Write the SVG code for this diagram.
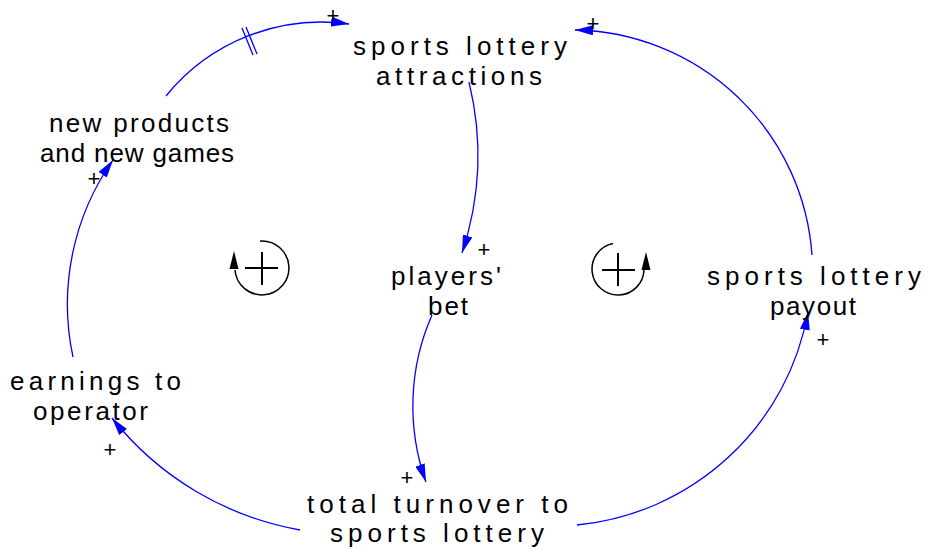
<svg xmlns="http://www.w3.org/2000/svg" width="925" height="553" viewBox="0 0 925 553">
<style>
.lbl{font-family:"Liberation Sans",Arial,sans-serif;font-size:26px;fill:#000}
.pol{font-family:"Liberation Sans",Arial,sans-serif;font-size:22px;fill:#000;text-anchor:middle}
.lnk{fill:none;stroke:#0000ff;stroke-width:1.3;marker-end:url(#ah)}
.loop{fill:none;stroke:#000;stroke-width:1.5}
</style>
<defs>
<marker id="ah" viewBox="0 0 18 10" refX="18" refY="5" markerWidth="18" markerHeight="10" markerUnits="userSpaceOnUse" orient="auto">
<path d="M0,0 L18,5 L0,10 z" fill="#0000ff"/>
</marker>
</defs>
<rect width="925" height="553" fill="#fff"/>
<g id="connectors">
<path class="lnk" d="M166,96 A200,200 0 0,1 349,24"/>
<line x1="242" y1="28" x2="253" y2="55" stroke="#0000ff" stroke-width="1.3"/>
<line x1="246" y1="27" x2="257" y2="54" stroke="#0000ff" stroke-width="1.3"/>
<path class="lnk" d="M469,82 A310,310 0 0,1 462,253"/>
<path class="lnk" d="M432,315 A226,226 0 0,0 426,482"/>
<path class="lnk" d="M300,530 A309,309 0 0,1 112,418"/>
<path class="lnk" d="M73,357 A251,251 0 0,1 113,160"/>
<path class="lnk" d="M577,525 A260,260 0 0,0 808,312"/>
<path class="lnk" d="M812,255 A242,242 0 0,0 575,30"/>
<text class="pol" x="333" y="23">+</text>
<text class="pol" x="593" y="31">+</text>
<text class="pol" x="94" y="186">+</text>
<text class="pol" x="484" y="257">+</text>
<text class="pol" x="407" y="485">+</text>
<text class="pol" x="110" y="457">+</text>
<text class="pol" x="823" y="347">+</text>
</g>
<g id="attractions">
<text class="lbl" x="353" y="55" textLength="214" lengthAdjust="spacing">sports lottery</text>
<text class="lbl" x="376" y="85" textLength="166" lengthAdjust="spacing">attractions</text>
</g>
<g id="new-products">
<text class="lbl" x="49" y="132" textLength="180" lengthAdjust="spacing">new products</text>
<text class="lbl" x="40" y="162" textLength="194" lengthAdjust="spacing">and new games</text>
</g>
<g id="players-bet">
<text class="lbl" x="391" y="285" textLength="110" lengthAdjust="spacing">players'</text>
<text class="lbl" x="428" y="315" textLength="40" lengthAdjust="spacing">bet</text>
</g>
<g id="payout">
<text class="lbl" x="707" y="285" textLength="214" lengthAdjust="spacing">sports lottery</text>
<text class="lbl" x="770" y="315" textLength="86" lengthAdjust="spacing">payout</text>
</g>
<g id="earnings">
<text class="lbl" x="10" y="390" textLength="171" lengthAdjust="spacing">earnings to</text>
<text class="lbl" x="33" y="420" textLength="115" lengthAdjust="spacing">operator</text>
</g>
<g id="turnover">
<text class="lbl" x="307" y="513" textLength="261" lengthAdjust="spacing">total turnover to</text>
<text class="lbl" x="330" y="542" textLength="214" lengthAdjust="spacing">sports lottery</text>
</g>
<g id="loop-left">
<path class="loop" d="M260,241 A27,27 0 1,1 235,270"/>
<path d="M234,251 L229.5,269 L238.5,269 z" fill="#000"/>
<line x1="245" y1="268" x2="278" y2="268" stroke="#000" stroke-width="2"/>
<line x1="262" y1="252" x2="262" y2="285" stroke="#000" stroke-width="2"/>
</g>
<g id="loop-right">
<path class="loop" d="M613,243.5 A26,26 0 1,0 644,270"/>
<path d="M646,252 L641.5,270 L650.5,270 z" fill="#000"/>
<line x1="602" y1="270" x2="635" y2="270" stroke="#000" stroke-width="2"/>
<line x1="618" y1="253" x2="618" y2="286" stroke="#000" stroke-width="2"/>
</g>
</svg>
